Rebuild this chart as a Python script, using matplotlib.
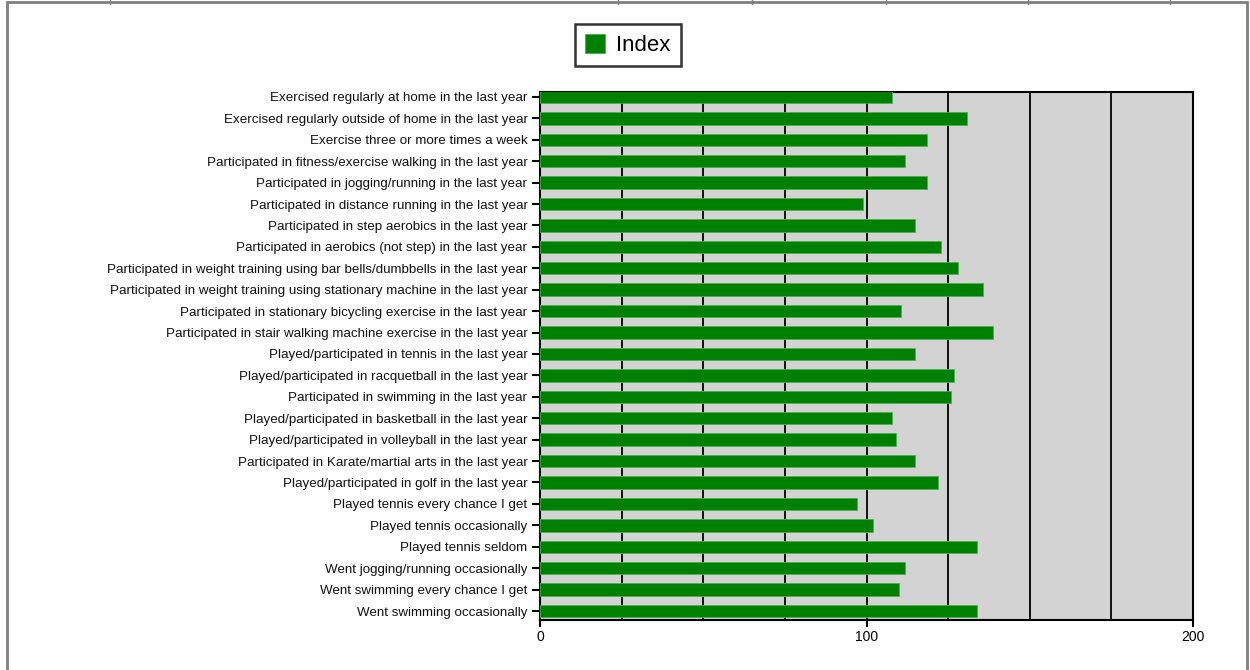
import matplotlib
matplotlib.use("Agg")
import matplotlib.pyplot as plt
from matplotlib.lines import Line2D
from matplotlib.patches import Rectangle

plt.rcParams['font.family'] = ['Liberation Sans', 'DejaVu Sans']

categories = [
    "Exercised regularly at home in the last year",
    "Exercised regularly outside of home in the last year",
    "Exercise three or more times a week",
    "Participated in fitness/exercise walking in the last year",
    "Participated in jogging/running in the last year",
    "Participated in distance running in the last year",
    "Participated in step aerobics in the last year",
    "Participated in aerobics (not step) in the last year",
    "Participated in weight training using bar bells/dumbbells in the last year",
    "Participated in weight training using stationary machine in the last year",
    "Participated in stationary bicycling exercise in the last year",
    "Participated in stair walking machine exercise in the last year",
    "Played/participated in tennis in the last year",
    "Played/participated in racquetball in the last year",
    "Participated in swimming in the last year",
    "Played/participated in basketball in the last year",
    "Played/participated in volleyball in the last year",
    "Participated in Karate/martial arts in the last year",
    "Played/participated in golf in the last year",
    "Played tennis every chance I get",
    "Played tennis occasionally",
    "Played tennis seldom",
    "Went jogging/running occasionally",
    "Went swimming every chance I get",
    "Went swimming occasionally",
]
index_values = [107.7, 130.8, 118.6, 111.9, 118.6, 98.9, 114.9, 122.8,
                127.9, 135.7, 110.6, 138.7, 114.9, 126.7, 125.9, 107.7,
                108.9, 114.9, 121.8, 97.2, 102.1, 133.8, 111.9, 110.0, 133.8]
x_ticks = [0, 100, 200]
grid_positions = [25, 50, 75, 100, 125, 150, 175]
series_name = "Index"

fig = plt.figure(figsize=(12.5, 6.7), dpi=100)
ax = fig.add_axes([0.432, 0.0746, 0.5224, 0.7881])
ax.set_facecolor('#d3d3d3')

ypos = list(range(len(categories)))
ax.barh(ypos, index_values, height=0.58, color='#008000', edgecolor='#4caf50',
        linewidth=0.6, label=series_name, zorder=3)

for g in grid_positions:
    ax.axvline(g, color='black', linewidth=1.3, zorder=2)

ax.set_xlim(0, 200)
ax.set_ylim(len(categories) - 0.58, -0.23)
ax.set_yticks(ypos)
ax.set_yticklabels(categories, fontsize=9.6, color='#111111')
ax.set_xticks(x_ticks)
ax.set_xticklabels([str(t) for t in x_ticks], fontsize=10)
ax.tick_params(axis='y', direction='out', length=6, width=1.5, pad=3)
ax.tick_params(axis='x', direction='out', length=5, width=1.5, pad=2)
for s in ax.spines.values():
    s.set_linewidth(1.5)
    s.set_color('black')

leg = fig.legend(loc='center', bbox_to_anchor=(628 / 1250, 1 - 45 / 670),
                 fontsize=16, frameon=True, fancybox=False, handlelength=0.9,
                 handleheight=0.9, handletextpad=0.5, borderpad=0.45)
leg.get_frame().set_edgecolor('black')
leg.get_frame().set_linewidth(1.8)

# figure border
fig.patches.append(Rectangle((7 / 1250, -0.01), 1240 / 1250, 1 - 2 / 670 + 0.01,
                             transform=fig.transFigure, fill=False,
                             edgecolor='#7f7f7f', linewidth=2))
for xs in [110, 618, 752, 886, 1028, 1170]:
    fig.lines.append(Line2D([xs / 1250, xs / 1250], [1 - 4 / 670, 1.0],
                            transform=fig.transFigure, color='#7f7f7f', linewidth=1))

fig.savefig('out.png', dpi=100)
